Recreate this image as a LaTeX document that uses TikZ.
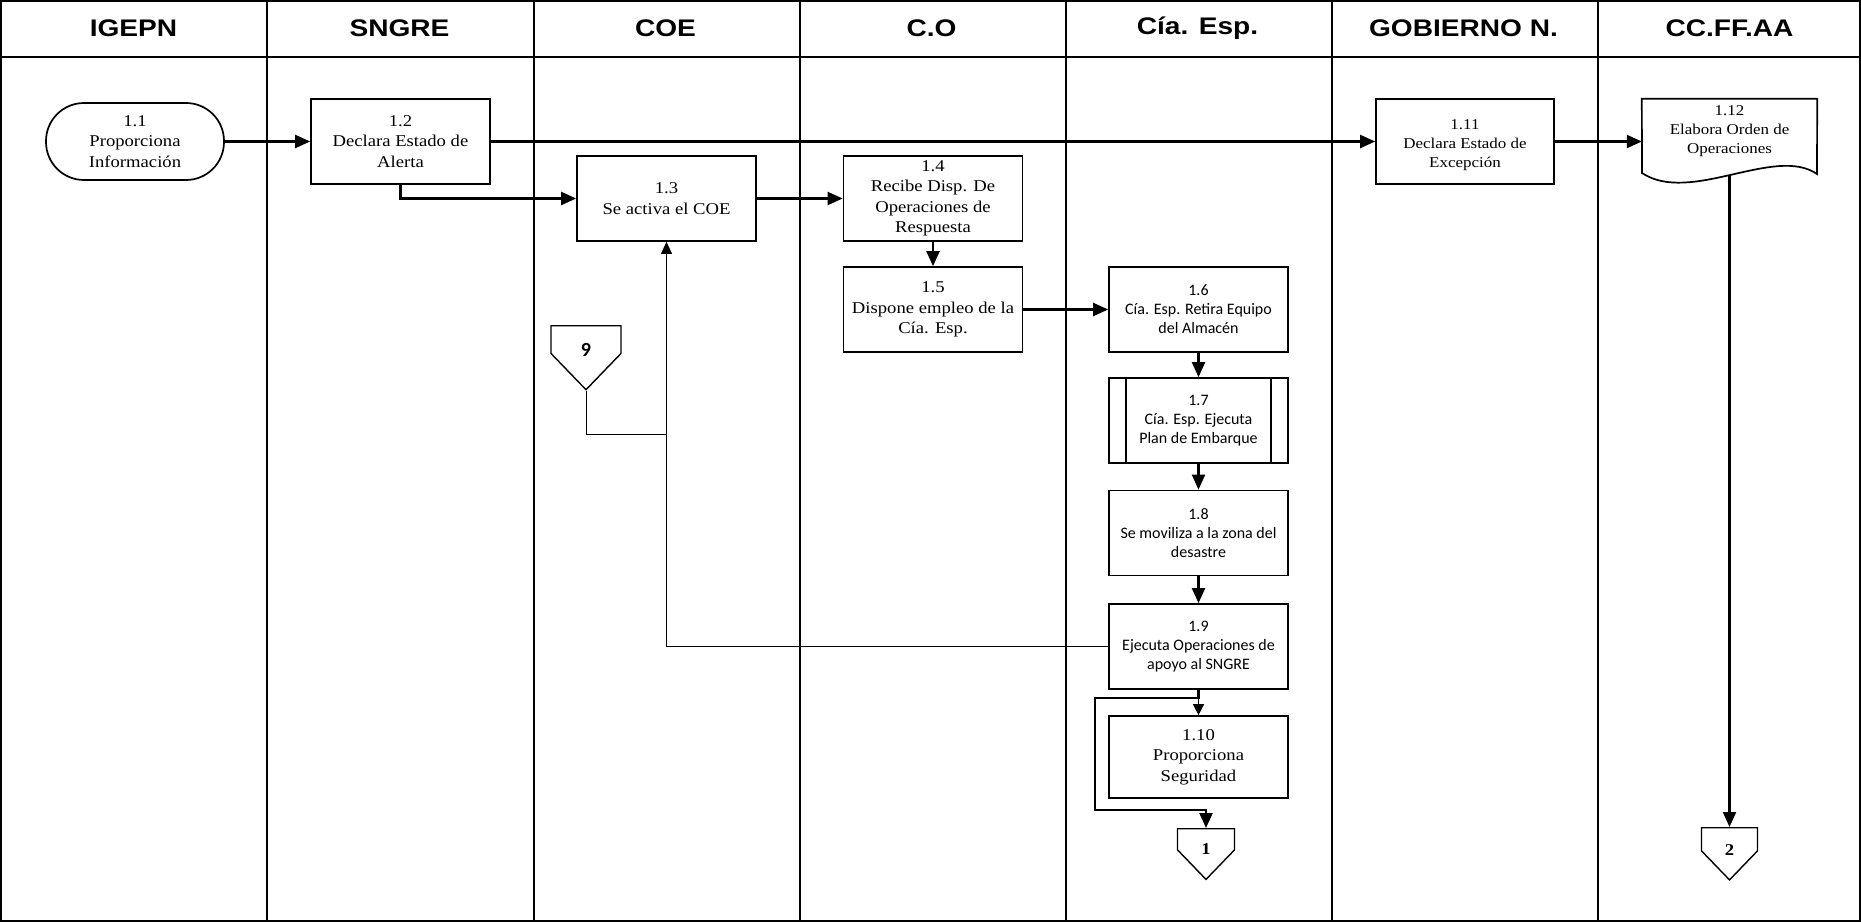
\documentclass[tikz,border=0pt]{standalone}
\usepackage{fontspec}
\setmainfont{Liberation Serif}[FakeStretch=1.13]
\newfontfamily\hdfamily{Liberation Sans}[FakeStretch=1.17]
\newfontfamily\calfamily{Carlito}
\usetikzlibrary{arrows.meta,shapes.symbols}
\newcommand\bigtxt{\fontsize{16.5}{20.5}\selectfont}
\newcommand\smalltxt{\fontsize{15}{19}\selectfont}
\newcommand\caltxt{\calfamily\fontsize{16}{19}\selectfont}
\newcommand\hdtxt{\hdfamily\bfseries\fontsize{24}{28}\selectfont}
\newcommand\lowertxt[2]{\raisebox{-#1}[\height][\depth]{#2}}
\tikzset{
  lane/.style={line width=1.8pt},
  proc/.style={draw, line width=1.7pt, minimum width=179pt, minimum height=85pt, inner sep=1pt, align=center, font=\bigtxt},
  cproc/.style={proc, font=\caltxt},
  term/.style={proc, minimum width=178pt, minimum height=77pt, rounded corners=38pt},
  offpage/.style={draw, line width=1.4pt, signal, signal to=south, signal from=nowhere, signal pointer angle=88, anchor=north, inner sep=0pt, font=\bigtxt\bfseries},
  flow/.style={line width=2.1pt, -{Triangle[length=15pt,width=13pt]}},
  link/.style={line width=1pt},
}
\begin{document}
\begin{tikzpicture}[x=1pt,y=-1pt]
\useasboundingbox (0,0) rectangle (1861,923);
% lanes
\draw[lane] (1,1) rectangle (1860,921);
\draw[line width=1.2pt] (1,57) -- (1860,57);
\foreach \x in {267,534,800,1066,1332,1598}
  \draw[lane] (\x,1) -- (\x,921);
\foreach \t [count=\i] in {IGEPN,SNGRE,COE,C.O,Cía. Esp.,GOBIERNO N.,CC.FF.AA}
  \node[font=\hdtxt] (lane\i) at ({133.5+266*(\i-1)},28.5) {\t};
% steps
\node[term] (p11) at (135,141.5) {1.1\\Proporciona\\Información};
\node[proc] (p12) at (400.5,141.5) {1.2\\Declara Estado de\\Alerta};
\node[proc] (p13) at (666.5,198.5) {1.3\\Se activa el COE};
\node[proc] (p14) at (933,198.5) {1.4\\Recibe Disp. De\\Operaciones de\\Respuesta};
\node[proc] (p15) at (933,309.5) {1.5\\Dispone empleo de la\\Cía. Esp.};
\node[cproc] (p16) at (1198.5,309.5) {1.6\\Cía. Esp. Retira Equipo\\del Almacén};
\node[cproc] (p17) at (1198.5,420.5) {1.7\\Cía. Esp. Ejecuta\\Plan de Embarque};
\draw[line width=1.7pt] ([xshift=18pt]p17.north west) -- ([xshift=18pt]p17.south west);
\draw[line width=1.7pt] ([xshift=-18pt]p17.north east) -- ([xshift=-18pt]p17.south east);
\node[cproc] (p18) at (1198.5,533) {1.8\\Se moviliza a la zona del\\desastre};
\node[cproc] (p19) at (1198.5,646.5) {1.9\\Ejecuta Operaciones de\\apoyo al SNGRE};
\node[proc, minimum height=82pt] (p110) at (1198.5,757) {1.10\\Proporciona\\Seguridad};
\node[proc, font=\smalltxt, minimum width=178pt] (p111) at (1465,141.5) {\lowertxt{4pt}{\parbox{170pt}{\centering 1.11\\Declara Estado de\\Excepción}}};
% document 1.12
\node[minimum width=175pt, minimum height=65pt, inner sep=0pt, align=center, font=\smalltxt] (d112) at (1729.5,131.5) {1.12\\Elabora Orden de\\Operaciones};
\draw[line width=1.7pt] (d112.north west) -- (d112.north east) -- (1817,174)
  .. controls (1775,145) and (1690,205) .. (1642,173) -- cycle;
\coordinate (d112b) at (1729.5,175);
% connectors
\node[offpage, minimum width=70pt, minimum height=33pt, font=\calfamily\bfseries\fontsize{20}{24}\selectfont] (c9) at (586,325) {\lowertxt{10pt}{9}};
\node[offpage, minimum width=57pt, minimum height=26pt] (c1) at (1206,828) {\lowertxt{10pt}{1}};
\node[offpage, minimum width=56pt, minimum height=28pt] (c2) at (1729.5,827) {\lowertxt{11pt}{2}};
% flow
\draw[flow] (p11) -- (p12);
\draw[flow] (p12.east |- 0,141.5) -- (p111.west |- 0,141.5);
\draw[flow] (p111.east |- 0,141.5) -- (d112.west |- 0,141.5);
\draw[flow] (p12.south) |- (p13.west);
\draw[flow] (p13) -- (p14);
\draw[flow] (p14) -- (p15);
\draw[flow] (p15) -- (p16);
\draw[flow] (p16) -- (p17);
\draw[flow] (p17) -- (p18);
\draw[flow] (p18) -- (p19);
\draw[flow, line width=1.4pt, -{Triangle[length=11pt,width=11pt]}] (p19) -- (p110);
\coordinate (l1) at (1095,698);
\coordinate (l2) at (1095,810);
\draw[flow] (p19.south) |- (l1) -- (l2) -| (c1.north);
\draw[flow] (d112b) -- (c2.north);
% return to COE
\coordinate (m9) at (666.5,434);
\draw[link] (c9.south) |- (m9);
\draw[link, -{Triangle[length=12pt,width=11pt]}] (p19.west) -| (p13.south);
\end{tikzpicture}
\end{document}
